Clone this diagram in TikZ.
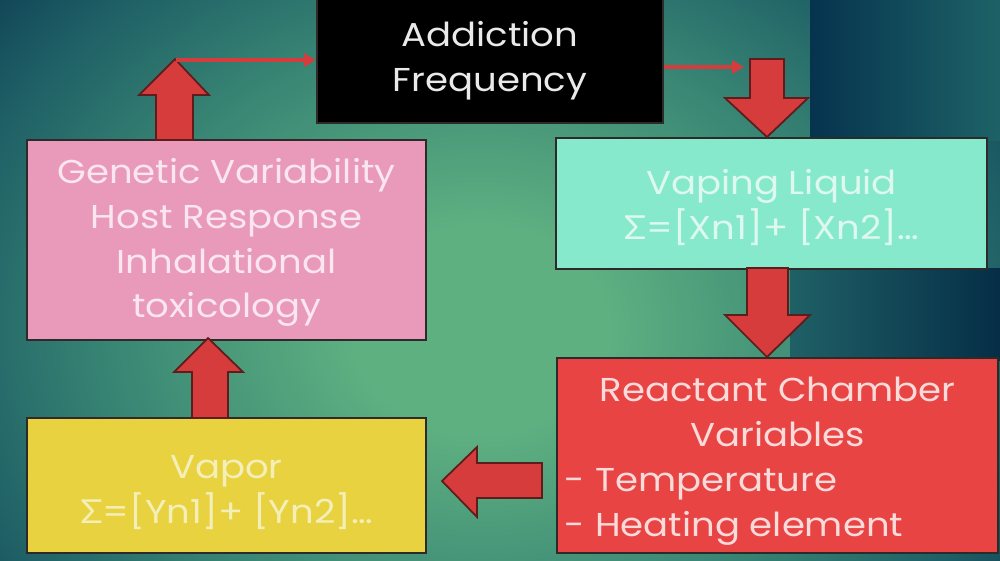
\documentclass[tikz,border=0pt]{standalone}
\usepackage{fontspec}
\setmainfont{Poppins}[FakeStretch=1.12]
\newfontfamily\sigfont{Lato}[FakeStretch=1.12]
\usetikzlibrary{arrows.meta}
\newcommand\dropby[1]{\rule{0pt}{#1}}
\definecolor{bgbase}{HTML}{114457}
\definecolor{glowin}{HTML}{5EB081}
\definecolor{glowmid}{HTML}{3A8875}
\definecolor{glowout}{HTML}{1F6066}
\definecolor{navy}{HTML}{06334E}
\definecolor{navyright}{HTML}{1D6267}
\definecolor{arrowred}{HTML}{D63C3C}
\definecolor{arrowedge}{HTML}{5E1C1C}
\definecolor{boxedge}{HTML}{2E2A2A}
\definecolor{blackbox}{HTML}{000000}
\definecolor{blacktext}{HTML}{EAEAEA}
\definecolor{pinkbox}{HTML}{E999BA}
\definecolor{pinktext}{HTML}{FAE6EF}
\definecolor{cyanbox}{HTML}{86E9CC}
\definecolor{cyantext}{HTML}{DDF8EE}
\definecolor{redbox}{HTML}{E84444}
\definecolor{redtext}{HTML}{FBDADA}
\definecolor{yellowbox}{HTML}{E9D23F}
\definecolor{yellowtext}{HTML}{F4EFB8}
\pgfdeclareradialshading{glow}{\pgfpoint{0bp}{0bp}}{color(0bp)=(glowin); color(5bp)=(glowin); color(14bp)=(glowmid); color(21bp)=(glowout); color(25bp)=(bgbase); color(50bp)=(bgbase)}
\tikzset{
  box/.style={draw=boxedge, line width=0.6pt, inner sep=0pt, align=center,
    font=\fontsize{9.4pt}{12.7pt}\selectfont},
  blockarrow/.style={fill=arrowred, draw=arrowedge, line width=0.5pt, line join=miter},
  thinarrow/.style={draw=arrowred, line width=0.9pt,
    -{Triangle[length=0.12cm,width=0.13cm]}}
}
\begin{document}
\begin{tikzpicture}[x=0.01cm,y=-0.01cm]
\useasboundingbox (0,0) rectangle (1000,560);
% background
\begin{scope}
\clip (0,0) rectangle (1000,560);
\fill[bgbase] (0,0) rectangle (1000,560);
\shade[shading=glow] (480,330) ellipse [x radius=6.4cm, y radius=5.2cm];
\shade[left color=navy, right color=navyright] (810,0) rectangle (1000,140);
\shade[left color=glowout, right color=navy!90!black] (790,268) rectangle (1000,360);
\end{scope}
% boxes
\node[box, fill=blackbox, text=blacktext, minimum width=3.46cm, minimum height=1.32cm] (addict) at (490,57) {\dropby{9.3pt}Addiction\\Frequency};
\node[box, fill=pinkbox, text=pinktext, minimum width=3.99cm, minimum height=2.00cm] (genetic) at (226.5,240) {\dropby{8.7pt}Genetic Variability\\Host Response\\Inhalational\\toxicology};
\node[box, fill=cyanbox, text=cyantext, minimum width=4.31cm, minimum height=1.31cm] (liquid) at (771.5,203.5) {\dropby{9.3pt}Vaping Liquid\\{\sigfont Σ}=[Xn1]+ [Xn2]…};
\node[box, fill=redbox, text=redtext, minimum width=4.41cm, minimum height=1.95cm, text width=4.25cm, align=flush left, font=\fontsize{9.4pt}{12.8pt}\selectfont] (chamber) at (777.5,455.5) {\centering \dropby{10.4pt}Reactant Chamber\\Variables\par\raggedright - Temperature\\- Heating element\par};
\node[box, fill=yellowbox, text=yellowtext, minimum width=3.99cm, minimum height=1.35cm] (vapor) at (226.5,485.5) {\dropby{10.4pt}Vapor\\{\sigfont Σ}=[Yn1]+ [Yn2]…};
% block arrows
\draw[blockarrow] (156,140) -- (156,95) -- (139,95) -- (175,59) -- (209,95) -- (193,95) -- (193,140) -- cycle;
\draw[blockarrow] (750,59) -- (784,59) -- (784,98) -- (808,98) -- (767,137) -- (725,98) -- (750,98) -- cycle;
\draw[blockarrow] (747,268) -- (788,268) -- (788,315) -- (810,315) -- (767,357) -- (725,315) -- (747,315) -- cycle;
\draw[blockarrow] (542,463) -- (477,463) -- (477,447) -- (442,481) -- (477,517) -- (477,498) -- (542,498) -- cycle;
\draw[blockarrow] (192,418) -- (192,372) -- (174,372) -- (208,338) -- (243,372) -- (228,372) -- (228,418) -- cycle;
% thin connectors
\coordinate (tipA) at (176,60);
\coordinate (endB) at (744,67);
\draw[thinarrow] (tipA) -- (tipA -| addict.west);
\draw[thinarrow] (addict.east |- endB) -- (endB);
\end{tikzpicture}
\end{document}
